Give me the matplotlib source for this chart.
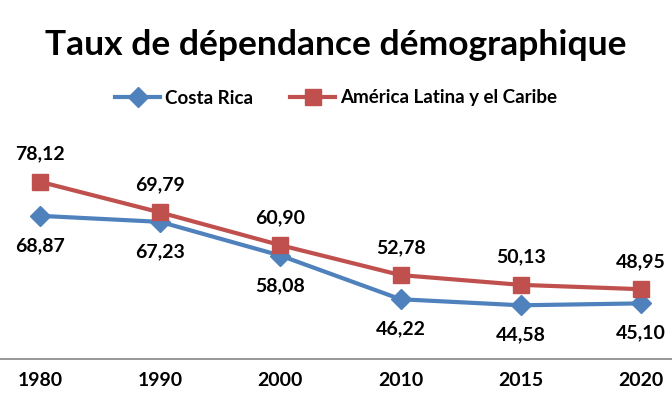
#!/usr/bin/env python3
"""
Taux de dependance demographique: Costa Rica vs America Latina y el Caribe.
"""

import matplotlib
matplotlib.use('Agg')
import matplotlib.pyplot as plt

YEARS = ['1980', '1990', '2000', '2010', '2015', '2020']
COSTA_RICA = [68.87, 67.23, 58.08, 46.22, 44.58, 45.10]
AMERICA_LATINA = [78.12, 69.79, 60.90, 52.78, 50.13, 48.95]

BLUE = '#4F81BD'
RED = '#C0504D'
FONT = 'Lato'

plt.rcParams['font.family'] = [FONT, 'DejaVu Sans']
plt.rcParams['font.weight'] = 'bold'

fig = plt.figure(figsize=(6.72, 3.93), dpi=100)
# axis line sits at ~359 px from the top, ~3.68 px per unit
ax = fig.add_axes([0.0, 34 / 393, 1.0, 221 / 393])

x = range(len(YEARS))
ax.plot(x, COSTA_RICA, color=BLUE, lw=3.0, marker='D', ms=10,
        label='Costa Rica', solid_joinstyle='round')
ax.plot(x, AMERICA_LATINA, color=RED, lw=3.0, marker='s', ms=11,
        label='América Latina y el Caribe', solid_joinstyle='round')

def fmt(v):
    return '{:.2f}'.format(v).replace('.', ',')

for i, v in enumerate(COSTA_RICA):
    ax.annotate(fmt(v), (i, v), xytext=(0, -21.5), textcoords='offset points',
                ha='center', va='center', fontsize=14, fontweight='bold')
for i, v in enumerate(AMERICA_LATINA):
    ax.annotate(fmt(v), (i, v), xytext=(0, 20), textcoords='offset points',
                ha='center', va='center', fontsize=14, fontweight='bold')

ax.set_ylim(30, 90)
ax.set_xlim(-0.333, 5.258)
ax.set_xticks(list(x))
ax.set_xticklabels(YEARS, fontsize=14, fontweight='bold')
ax.tick_params(axis='x', length=0, pad=9)
ax.set_yticks([])
for side in ['top', 'left', 'right']:
    ax.spines[side].set_visible(False)
ax.spines['bottom'].set_color('#868686')
ax.spines['bottom'].set_linewidth(1.2)
ax.patch.set_alpha(0)

fig.text(0.5, 1 - 45 / 393, 'Taux de dépendance démographique',
         ha='center', va='center', fontsize=25.5, fontweight='bold')
fig.legend(loc='center', bbox_to_anchor=(0.5, 1 - 98 / 393), ncol=2,
           frameon=False, handlelength=2.4, columnspacing=2.0,
           handletextpad=0.25, prop={'weight': 'bold', 'size': 13.5})

fig.savefig('out.png', dpi=100)
